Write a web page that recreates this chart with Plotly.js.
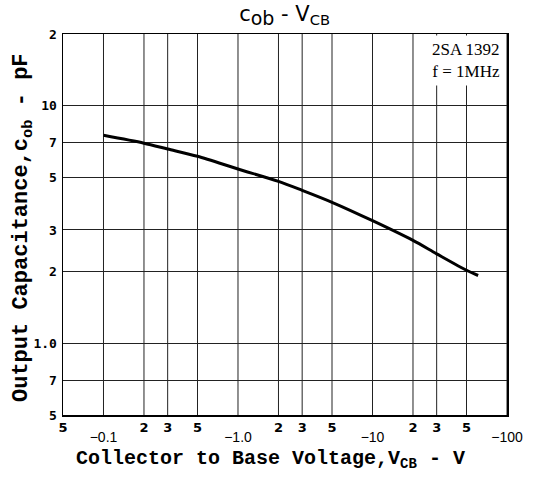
<!DOCTYPE html>
<html>
<head>
<meta charset="utf-8">
<script src="https://cdn.plot.ly/plotly-3.0.1.min.js"></script>
<style>html,body{margin:0;padding:0;background:#fff;}#chart{width:553px;height:478px;}</style>
</head>
<body>
<div id="chart"></div>
<script>
// Curve data (|VCB| in volts, Cob in pF)
const vcb = [0.1, 0.2, 0.3, 0.5, 1, 2, 3, 5, 10, 20, 30, 50, 61];
const cob = [7.5, 6.95, 6.57, 6.12, 5.41, 4.80, 4.40, 3.92, 3.28, 2.71, 2.38, 2.03, 1.93];

// Axis ticks
const xMinorVals = [0.05, 0.2, 0.3, 0.5, 2, 3, 5, 20, 30, 50];
const xMinorText = ['5', '2', '3', '5', '2', '3', '5', '2', '3', '5'];
const xMajorVals = [0.1, 1, 10, 100];
const xMajorText = ['\u22120.1', '\u22121.0', '\u221210', '\u2212100'];
const yVals = [0.5, 0.7, 1, 2, 3, 5, 7, 10, 20];
const yText = ['5', '7', '1.0', '2', '3', '5', '7', '10', '2'];
const xGridVals = [0.1, 0.2, 0.3, 0.5, 1, 2, 3, 5, 10, 20, 30, 50, 100];

const xRange = [Math.log10(0.05), Math.log10(100)];
const yRange = [Math.log10(0.5), Math.log10(20)];

const trace = {
  x: vcb, y: cob, type: 'scatter', mode: 'lines',
  line: {color: '#000', width: 3, shape: 'spline', smoothing: 0.8},
  xaxis: 'x', yaxis: 'y', hoverinfo: 'skip', showlegend: false
};
// invisible trace to activate xaxis2
const dummy = {x: [1], y: [1], xaxis: 'x2', yaxis: 'y', mode: 'markers',
  marker: {opacity: 0}, showlegend: false, hoverinfo: 'skip'};

const layout = {
  width: 553, height: 478,
  margin: {l: 63, r: 46, t: 34, b: 63},
  paper_bgcolor: '#fff', plot_bgcolor: '#fff',
  showlegend: false,
  title: {
    text: 'c<sub><span style="font-size:19px">ob</span></sub> - V<sub>CB</sub>',
    font: {family: 'DejaVu Sans', size: 21, color: '#000'},
    x: (276 - 0) / 553, xref: 'paper', xanchor: 'center', y: 0.972, yanchor: 'middle'
  },
  xaxis: {
    type: 'log', range: xRange,
    tickmode: 'array', tickvals: xMinorVals, ticktext: xMinorText,
    ticks: '', ticklabelstandoff: 0,
    tickfont: {family: 'DejaVu Sans', size: 13, color: '#000', weight: 'bold'},
    showgrid: false, zeroline: false,
    showline: true, linecolor: '#000', linewidth: 1.5, mirror: true
  },
  xaxis2: {
    type: 'log', range: xRange, overlaying: 'x', anchor: 'y', side: 'bottom',
    tickmode: 'array', tickvals: xMajorVals, ticktext: xMajorText,
    ticks: '', ticklabelstandoff: 12,
    tickfont: {family: 'Liberation Sans', size: 14, color: '#000'},
    showgrid: false, zeroline: false, showline: false
  },
  yaxis: {
    type: 'log', range: yRange,
    tickmode: 'array', tickvals: yVals, ticktext: yText,
    ticks: '', ticklabelstandoff: 2,
    tickfont: {family: 'DejaVu Sans Mono', size: 13, color: '#000', weight: 'bold'},
    showgrid: true, gridcolor: '#222', gridwidth: 1, zeroline: false,
    showline: true, linecolor: '#000', linewidth: 1.5, mirror: true
  },
  shapes: xGridVals.map(v => ({
    type: 'line', xref: 'x', yref: 'paper', x0: v, x1: v, y0: 0, y1: 1,
    line: {color: '#222', width: 1}, layer: 'below'
  })),
  annotations: [
    {
      text: '2SA 1392<br>f = 1MHz', xref: 'paper', yref: 'paper',
      x: 0.995, y: 0.997, xanchor: 'right', yanchor: 'top', align: 'right',
      showarrow: false, bgcolor: '#fff', borderpad: 4,
      font: {family: 'Liberation Serif', size: 17, color: '#000'}
    },
    {
      text: '<b>Collector to Base Voltage,V<sub>CB</sub> - V</b>',
      xref: 'paper', yref: 'paper', x: (270 - 63) / 444, y: -0.118,
      xanchor: 'center', yanchor: 'middle', showarrow: false,
      font: {family: 'Liberation Mono', size: 20, color: '#000'}
    },
    {
      text: '<b>Output Capacitance,c<sub>ob</sub> - pF</b>',
      xref: 'paper', yref: 'paper', x: (23 - 63) / 444, y: (415 - 228) / 381,
      xanchor: 'center', yanchor: 'middle', textangle: -90, showarrow: false,
      font: {family: 'Liberation Mono', size: 22, color: '#000'}
    }
  ]
};

Plotly.newPlot('chart', [trace, dummy], layout, {displayModeBar: false, staticPlot: true});
</script>
</body>
</html>
